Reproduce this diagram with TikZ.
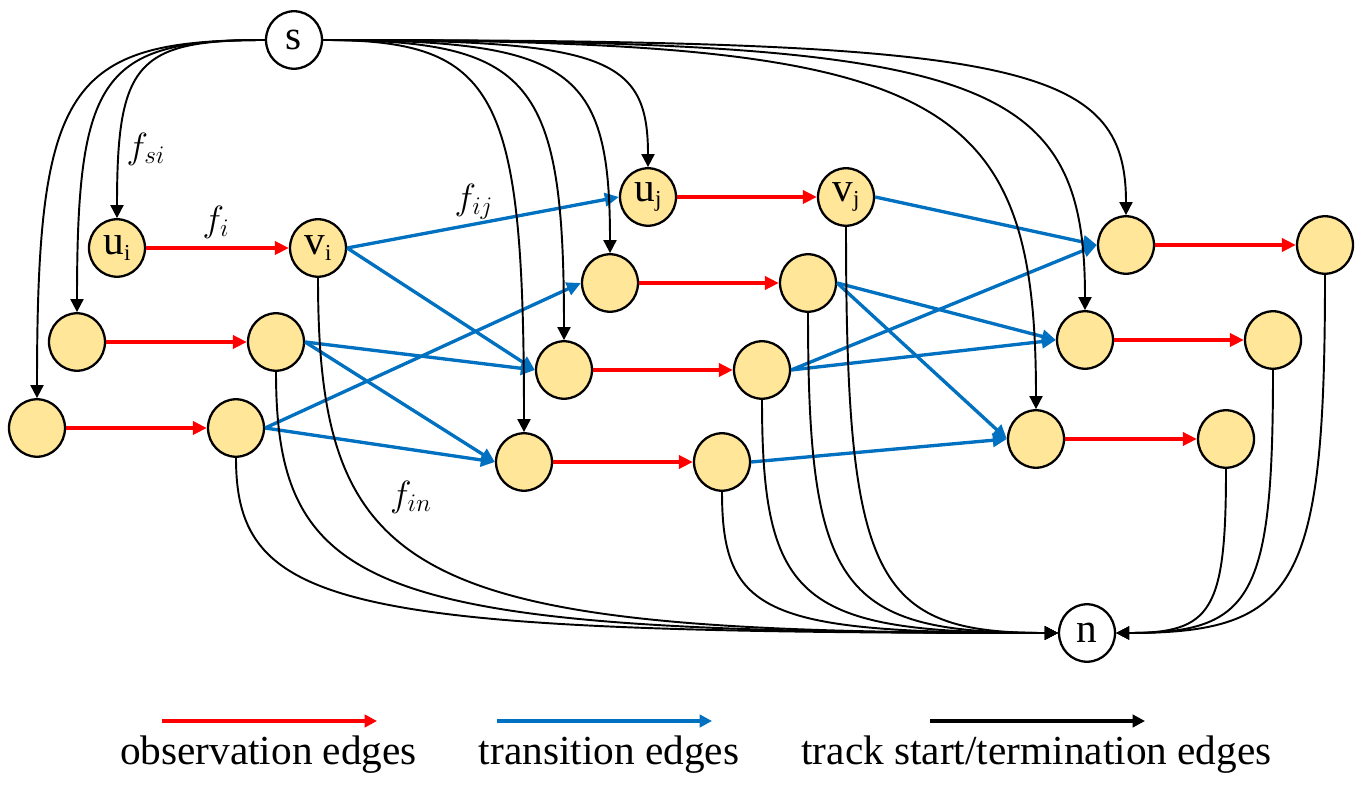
\documentclass[tikz,border=0pt]{standalone}
\usepackage{fontspec}
\setmainfont{Liberation Serif}
\usetikzlibrary{shapes.geometric,arrows.meta,calc}
\definecolor{nodefill}{RGB}{255,230,153}
\definecolor{obsred}{RGB}{255,0,0}
\definecolor{transblue}{RGB}{0,112,192}
\newcommand{\sbs}[1]{\raisebox{-3pt}{\fontsize{13}{13}\selectfont #1}}
\tikzset{
  basenode/.style={ellipse, draw, line width=1.3pt, minimum width=1.12cm, minimum height=1.15cm, inner sep=0pt, font=\fontsize{23.5}{25}\selectfont},
  nd/.style={basenode, fill=nodefill},
  term/.style={basenode, fill=white},
  obs/.style={draw=obsred, line width=1.9pt, -{Triangle[length=8pt,width=7.5pt]}},
  trans/.style={draw=transblue, line width=1.9pt, -{Triangle[length=8pt,width=7.5pt]}},
  blk/.style={draw=black, line width=1.1pt, -{Triangle[length=7.4pt,width=7.4pt]}},
  startedge/.style={blk, to path={.. controls ($(\tikztostart)!0.87!(\tikztostart -| \tikztotarget)$) and ($(\tikztotarget)!0.87!(\tikztostart -| \tikztotarget)$) .. (\tikztotarget) \tikztonodes}},
  endedge/.style={blk, to path={.. controls ($(\tikztostart)!0.87!(\tikztostart |- \tikztotarget)$) and ($(\tikztotarget)!0.87!(\tikztostart |- \tikztotarget)$) .. (\tikztotarget) \tikztonodes}},
  mlabel/.style={font=\fontsize{19.5}{20}\selectfont, inner sep=0pt},
  legtext/.style={font=\fontsize{23.5}{25}\selectfont, anchor=base, inner sep=0pt},
  legobs/.style={draw=obsred, line width=1.8pt, -{Triangle[length=7pt,width=7pt]}},
  legtrans/.style={draw=transblue, line width=1.8pt, -{Triangle[length=7pt,width=7pt]}},
  legblk/.style={draw=black, line width=1.8pt, -{Triangle[length=7pt,width=7pt]}},
}
\begin{document}
\begin{tikzpicture}[x=0.02cm,y=-0.02cm]
\useasboundingbox[fill=white] (0,0) rectangle (1365,786);

% terminal nodes
\node[term] (s) at (294,40) {s};
\node[term] (n) at (1087,633) {n};

% chains
\node[nd] (ui) at (117,248) {u\sbs{i}};
\node[nd] (vi) at (318,248) {v\sbs{i}};
\node[nd] (a1) at (77,342) {};
\node[nd] (a2) at (276,342) {};
\node[nd] (b1) at (37,428) {};
\node[nd] (b2) at (236,428) {};
\node[nd] (uj) at (648,197) {u\sbs{j}};
\node[nd] (vj) at (846,197) {v\sbs{j}};
\node[nd] (c1) at (610,283) {};
\node[nd] (c2) at (808,283) {};
\node[nd] (d1) at (564,370) {};
\node[nd] (d2) at (762,370) {};
\node[nd] (e1) at (524,462) {};
\node[nd] (e2) at (722,462) {};
\node[nd] (g1) at (1126,245) {};
\node[nd] (g2) at (1325,245) {};
\node[nd] (h1) at (1085,340) {};
\node[nd] (h2) at (1273,340) {};
\node[nd] (k1) at (1036,439) {};
\node[nd] (k2) at (1226,439) {};

% observation edges
\foreach \p/\q in {ui/vi,a1/a2,b1/b2,uj/vj,c1/c2,d1/d2,e1/e2,g1/g2,h1/h2,k1/k2}
  \draw[obs] (\p.east) -- (\q.west);

% transition edges
\foreach \p/\q in {vi/uj,vi/d1,a2/d1,a2/e1,b2/c1,b2/e1,vj/g1,c2/h1,c2/k1,d2/g1,d2/h1,e2/k1}
  \draw[trans] (\p.east) -- (\q.west);

% start edges
\foreach \t in {ui,a1,b1}
  \draw[startedge] (s.west) to (\t.north);
\foreach \t in {uj,c1,d1,e1,g1,h1,k1}
  \draw[startedge] (s.east) to (\t.north);

% termination edges
\foreach \t in {vi,a2,b2,vj,c2,d2,e2}
  \draw[endedge] (\t.south) to (n.west);
\foreach \t in {g2,h2,k2}
  \draw[endedge] (\t.south) to (n.east);

% labels
\node[mlabel] (lsi) at (146,149) {$f_{si}$};
\node[mlabel] (li) at (216,222) {$f_{i}$};
\node[mlabel] (lij) at (474,202) {$f_{ij}$};
\node[mlabel] (lin) at (411,497) {$f_{in}$};

% legend
\coordinate (lr1) at (162,721); \coordinate (lr2) at (377,721);
\coordinate (lb1) at (497,721); \coordinate (lb2) at (712,721);
\coordinate (lk1) at (930,721); \coordinate (lk2) at (1145,721);
\draw[legobs] (lr1) -- (lr2);
\draw[legtrans] (lb1) -- (lb2);
\draw[legblk] (lk1) -- (lk2);
\node[legtext] (t1) at (268.5,764) {observation edges};
\node[legtext] (t2) at (609,764) {transition edges};
\node[legtext] (t3) at (1036.5,764) {track start/termination edges};
\end{tikzpicture}
\end{document}
